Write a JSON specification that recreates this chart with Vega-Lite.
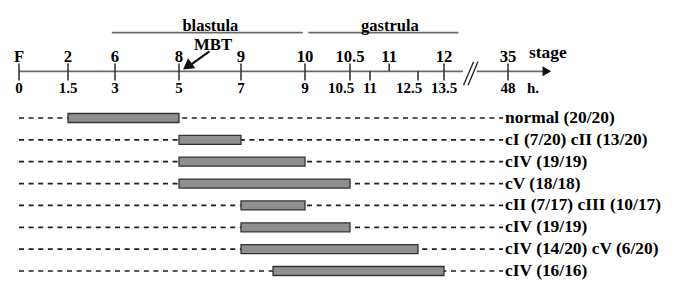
{
  "$schema": "https://vega.github.io/schema/vega-lite/v6.json",
  "width": 675,
  "height": 285,
  "padding": 0,
  "autosize": {"type": "none"},
  "config": {
    "view": {"stroke": null},
    "axis": {"disable": true},
    "text": {"font": "Liberation Serif", "fontWeight": "bold", "fill": "#000"}
  },
  "datasets": {
    "ticks": [
      {"h": 0, "stage": "F", "hour": "0"},
      {"h": 1.5, "stage": "2", "hour": "1.5"},
      {"h": 3, "stage": "6", "hour": "3"},
      {"h": 5, "stage": "8", "hour": "5"},
      {"h": 7, "stage": "9", "hour": "7"},
      {"h": 9, "stage": "10", "hour": "9"},
      {"h": 10.5, "stage": "10.5", "hour": "10.5"},
      {"h": 11, "stage": null, "hour": "11"},
      {"h": 11.6, "stage": "11", "hour": null},
      {"h": 12.5, "stage": null, "hour": "12.5"},
      {"h": 13.5, "stage": "12", "hour": "13.5"},
      {"h": 48, "stage": "35", "hour": "48"}
    ],
    "phases": [
      {"phase": "blastula", "from": 2.9, "to": 8.93},
      {"phase": "gastrula", "from": 9.11, "to": 13.95}
    ],
    "rows": [
      {"row": 1, "start": 1.5, "end": 5, "label": "normal (20/20)"},
      {"row": 2, "start": 5, "end": 7, "label": "cI (7/20) cII (13/20)"},
      {"row": 3, "start": 5, "end": 9, "label": "cIV (19/19)"},
      {"row": 4, "start": 5, "end": 10.5, "label": "cV (18/18)"},
      {"row": 5, "start": 7, "end": 9, "label": "cII (7/17) cIII (10/17)"},
      {"row": 6, "start": 7, "end": 10.5, "label": "cIV (19/19)"},
      {"row": 7, "start": 7, "end": 12.5, "label": "cIV (14/20) cV (6/20)"},
      {"row": 8, "start": 8, "end": 13.5, "label": "cIV (16/16)"}
    ]
  },
  "layer": [
    {
      "data": {"name": "phases"},
      "mark": {"type": "rule", "stroke": "#6a6a6a", "strokeWidth": 1.6},
      "encoding": {
        "x": {"field": "from", "type": "quantitative",
              "scale": {"type": "linear", "domain": [0, 1.5, 3, 5, 7, 9, 10.5, 11, 12.5, 13.5, 14, 48, 60],
                        "range": [19, 68, 115, 179, 241, 305, 350, 370, 418, 444, 460, 508, 552], "nice": false, "zero": false}},
        "x2": {"field": "to"},
        "y": {"datum": -2.907, "type": "quantitative",
              "scale": {"type": "linear", "domain": [1, 8], "range": [113, 276], "nice": false, "zero": false}}
      }
    },
    {
      "data": {"name": "phases"},
      "transform": [{"calculate": "(datum.from + datum.to) / 2", "as": "mid"}],
      "mark": {"type": "text", "fontSize": 16.5, "align": "center", "baseline": "alphabetic", "dx": 3},
      "encoding": {
        "x": {"field": "mid", "type": "quantitative"},
        "y": {"datum": -3.0, "type": "quantitative"},
        "text": {"field": "phase"}
      }
    },
    {
      "data": {"values": [{}]},
      "mark": {"type": "rule", "stroke": "#6a6a6a", "strokeWidth": 1.7},
      "encoding": {
        "x": {"datum": 0, "type": "quantitative"},
        "x2": {"datum": 16.1},
        "y": {"datum": -1.134, "type": "quantitative"}
      }
    },
    {
      "data": {"values": [{}]},
      "mark": {"type": "rule", "stroke": "#6a6a6a", "strokeWidth": 1.7},
      "encoding": {
        "x": {"datum": 25.8, "type": "quantitative"},
        "x2": {"datum": 58},
        "y": {"datum": -1.134, "type": "quantitative"}
      }
    },
    {
      "data": {"values": [{}]},
      "mark": {"type": "point", "shape": "triangle-right", "filled": true, "size": 100, "color": "#111", "opacity": 1},
      "encoding": {
        "x": {"datum": 58.6, "type": "quantitative"},
        "y": {"datum": -1.134, "type": "quantitative"}
      }
    },
    {
      "data": {"values": [{}]},
      "mark": {"type": "rule", "stroke": "#222", "strokeWidth": 1.3},
      "encoding": {
        "x": {"datum": 16.5, "type": "quantitative"},
        "x2": {"datum": 23.6},
        "y": {"datum": -0.503, "type": "quantitative"},
        "y2": {"datum": -1.576}
      }
    },
    {
      "data": {"values": [{}]},
      "mark": {"type": "rule", "stroke": "#222", "strokeWidth": 1.3},
      "encoding": {
        "x": {"datum": 19.7, "type": "quantitative"},
        "x2": {"datum": 26.7},
        "y": {"datum": -0.503, "type": "quantitative"},
        "y2": {"datum": -1.576}
      }
    },
    {
      "data": {"name": "ticks"},
      "transform": [{"filter": "datum.stage != null"}],
      "mark": {"type": "rule", "stroke": "#2a2a2a", "strokeWidth": 1.5},
      "encoding": {
        "x": {"field": "h", "type": "quantitative"},
        "y": {"datum": -1.49, "type": "quantitative"},
        "y2": {"datum": -1.134}
      }
    },
    {
      "data": {"name": "ticks"},
      "transform": [{"filter": "datum.hour != null"}],
      "mark": {"type": "rule", "stroke": "#2a2a2a", "strokeWidth": 1.5},
      "encoding": {
        "x": {"field": "h", "type": "quantitative"},
        "y": {"datum": -1.134, "type": "quantitative"},
        "y2": {"datum": -0.717}
      }
    },
    {
      "data": {"name": "ticks"},
      "transform": [{"filter": "datum.stage != null"}],
      "mark": {"type": "text", "fontSize": 16.7, "align": "center", "baseline": "alphabetic"},
      "encoding": {
        "x": {"field": "h", "type": "quantitative"},
        "y": {"datum": -1.576, "type": "quantitative"},
        "text": {"field": "stage"}
      }
    },
    {
      "data": {"name": "ticks"},
      "transform": [{"filter": "datum.hour != null && datum.hour != '10.5' && datum.hour != '12.5'"}],
      "mark": {"type": "text", "fontSize": 15, "align": "center", "baseline": "alphabetic"},
      "encoding": {
        "x": {"field": "h", "type": "quantitative"},
        "y": {"datum": -0.138, "type": "quantitative"},
        "text": {"field": "hour"}
      }
    },
    {
      "data": {"name": "ticks"},
      "transform": [{"filter": "datum.hour == '10.5' || datum.hour == '12.5'"}],
      "mark": {"type": "text", "fontSize": 15, "align": "center", "baseline": "alphabetic", "dx": -9},
      "encoding": {
        "x": {"field": "h", "type": "quantitative"},
        "y": {"datum": -0.138, "type": "quantitative"},
        "text": {"field": "hour"}
      }
    },
    {
      "data": {"values": [{}]},
      "mark": {"type": "text", "text": "stage", "fontSize": 17.4, "align": "left", "baseline": "alphabetic", "dx": 21},
      "encoding": {
        "x": {"datum": 48, "type": "quantitative"},
        "y": {"datum": -1.748, "type": "quantitative"}
      }
    },
    {
      "data": {"values": [{}]},
      "mark": {"type": "text", "text": "h.", "fontSize": 15, "align": "left", "baseline": "alphabetic", "dx": 19},
      "encoding": {
        "x": {"datum": 48, "type": "quantitative"},
        "y": {"datum": -0.138, "type": "quantitative"}
      }
    },
    {
      "data": {"values": [{}]},
      "mark": {"type": "text", "text": "MBT", "fontSize": 16.7, "align": "center", "baseline": "alphabetic"},
      "encoding": {
        "x": {"datum": 6.1, "type": "quantitative"},
        "y": {"datum": -2.09, "type": "quantitative"}
      }
    },
    {
      "data": {"values": [{}]},
      "mark": {"type": "rule", "stroke": "#111", "strokeWidth": 2.2},
      "encoding": {
        "x": {"datum": 5.98, "type": "quantitative"},
        "x2": {"datum": 5.4},
        "y": {"datum": -2.048, "type": "quantitative"},
        "y2": {"datum": -1.45}
      }
    },
    {
      "data": {"values": [{}]},
      "mark": {"type": "point", "shape": "triangle-up", "filled": true, "size": 150, "angle": 233.5, "color": "#111", "opacity": 1},
      "encoding": {
        "x": {"datum": 5.27, "type": "quantitative"},
        "y": {"datum": -1.36, "type": "quantitative"}
      }
    },
    {
      "data": {"name": "rows"},
      "mark": {"type": "rule", "stroke": "#1e1e1e", "strokeWidth": 1.7, "strokeDash": [5, 4.6]},
      "encoding": {
        "x": {"datum": 0, "type": "quantitative"},
        "x2": {"datum": 44.5},
        "y": {"field": "row", "type": "quantitative"}
      }
    },
    {
      "data": {"name": "rows"},
      "mark": {"type": "bar", "orient": "horizontal", "size": 9, "fill": "#8f8f8f", "stroke": "#333", "strokeWidth": 1.3},
      "encoding": {
        "x": {"field": "start", "type": "quantitative"},
        "x2": {"field": "end"},
        "y": {"field": "row", "type": "quantitative"}
      }
    },
    {
      "data": {"name": "rows"},
      "mark": {"type": "text", "fontSize": 17.4, "align": "left", "baseline": "middle", "dx": 2},
      "encoding": {
        "x": {"datum": 44.5, "type": "quantitative"},
        "y": {"field": "row", "type": "quantitative"},
        "text": {"field": "label"}
      }
    }
  ]
}
